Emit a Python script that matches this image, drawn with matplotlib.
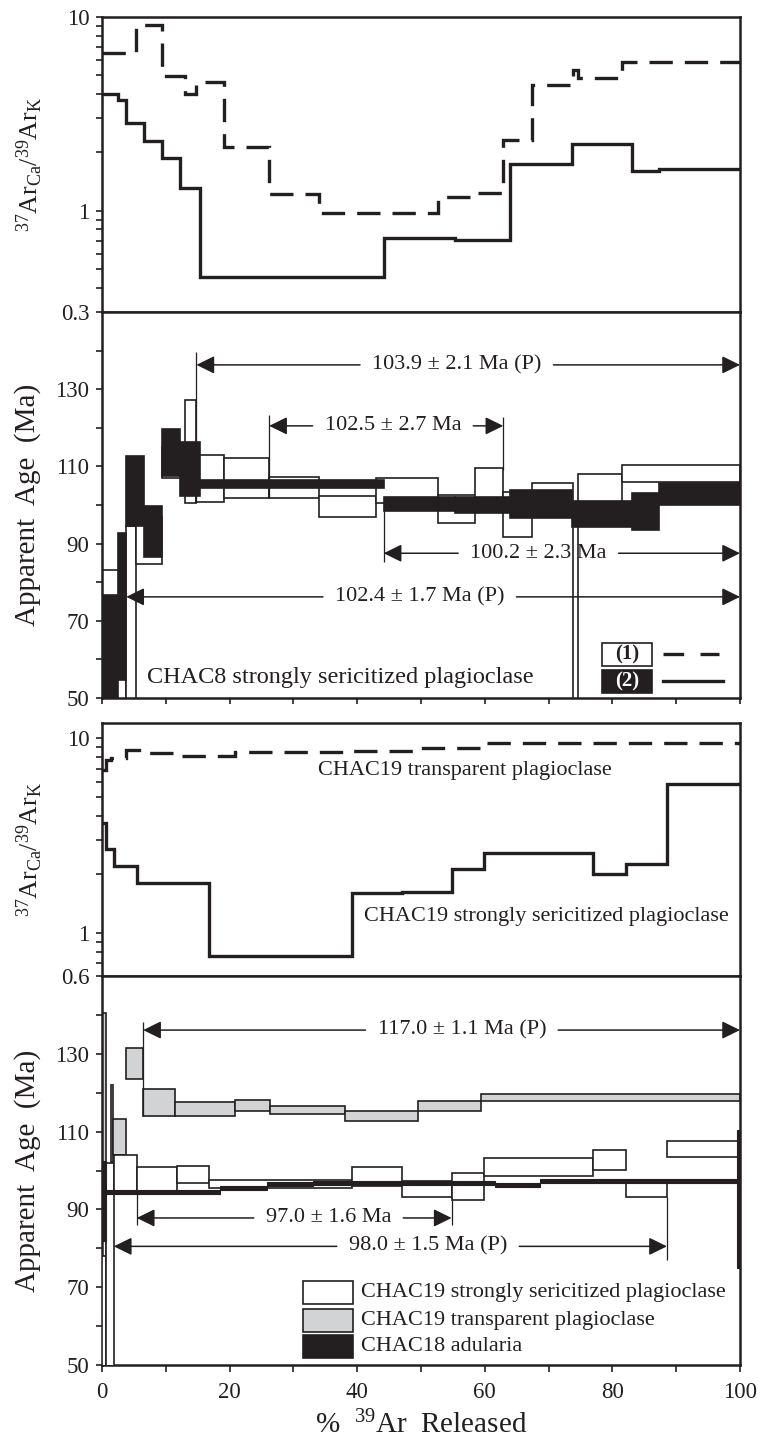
import numpy as np
import matplotlib
matplotlib.use("Agg")
import matplotlib.pyplot as plt
from matplotlib.patches import Rectangle
from matplotlib.ticker import FixedLocator, FixedFormatter, NullFormatter

plt.rcParams['font.family'] = ['Liberation Serif', 'DejaVu Serif']
plt.rcParams['mathtext.fontset'] = 'custom'
plt.rcParams['mathtext.rm'] = 'Liberation Serif'
plt.rcParams['mathtext.it'] = 'Liberation Serif:italic'
plt.rcParams['mathtext.bf'] = 'Liberation Serif:bold'

INK = '#231f20'
GREY = '#d1d3d4'

# ---- CHAC8 sample (1): steps, Ca/K and age envelope ----
chac8_1_edges = [0, 3.8, 5.3, 9.35, 13.0, 14.8, 19.05, 26.2, 34.0, 43.0, 52.6,
                 58.4, 62.9, 67.4, 73.85, 74.65, 81.45, 100]
chac8_1_cak = [6.5, 6.5, 9.1, 4.96, 4.0, 4.63, 2.14, 1.215, 0.97, 0.97, 1.18,
               1.24, 2.32, 4.46, 5.33, 4.83, 5.88]
chac8_1_lo = [40, 40, 84.6, 107.0, 100.4, 100.9, 101.7, 101.7, 97.0, 100.6,
              95.4, 101.5, 91.7, 97.5, 30, 98.0, 106.0]
chac8_1_hi = [83.2, 94.6, 97.0, 115.0, 127.2, 112.9, 112.1, 107.3, 102.3,
              107.1, 102.6, 109.5, 103.4, 105.6, 100.9, 108.0, 110.4]

# ---- CHAC8 sample (2) ----
chac8_2_edges = [0, 2.5, 3.8, 6.6, 9.4, 12.15, 15.4, 44.15, 55.4, 63.95, 73.7,
                 83.0, 87.35, 100]
chac8_2_cak = [3.99, 3.73, 2.85, 2.30, 1.87, 1.31, 0.456, 0.726, 0.706, 1.736,
               2.20, 1.61, 1.64]
chac8_2_lo = [40, 54.7, 94.6, 86.6, 107.5, 102.3, 104.4, 98.5, 98.0, 96.6,
              94.3, 93.6, 100.0]
chac8_2_hi = [76.7, 92.7, 112.7, 99.7, 119.6, 116.4, 106.4, 102.0, 102.1,
              103.9, 101.0, 103.0, 105.6]

# ---- CHAC19 strongly sericitized plagioclase ----
chac19s_edges = [0, 0.6, 1.85, 5.45, 11.8, 16.7, 39.2, 47.0, 54.8, 59.95,
                 76.95, 82.2, 88.55, 100]
chac19s_cak = [3.66, 2.71, 2.22, 1.80, 1.81, 0.756, 1.60, 1.62, 2.14, 2.56,
               2.01, 2.27, 5.81]
chac19s_lo = [40, 40, 94.0, 94.0, 96.8, 95.6, 96.0, 93.3, 92.4, 98.6, 100.1,
              93.1, 103.5]
chac19s_hi = [78.0, 102.0, 104.0, 100.9, 101.2, 97.5, 101.0, 97.2, 99.4,
              103.2, 105.2, 97.6, 107.5]

# ---- CHAC19 transparent plagioclase ----
chac19t_edges = [0, 0.7, 1.35, 1.8, 3.7, 6.45, 11.5, 20.9, 26.4, 38.1, 49.5,
                 59.4, 100]
chac19t_cak = [6.9, 7.7, 7.95, 7.95, 8.7, 8.45, 8.15, 8.5, 8.5, 8.6, 8.95, 9.5]
chac19t_lo = [102.3, 40, 102.3, 104.0, 123.5, 114.1, 113.9, 115.2, 114.5,
              112.6, 115.2, 117.8]
chac19t_hi = [140.5, 101.0, 122.0, 113.2, 131.5, 120.9, 117.5, 118.1, 116.6,
              115.2, 117.8, 119.7]

# ---- CHAC18 adularia ----
chac18_edges = [0, 0.6, 18.5, 25.8, 33.1, 61.6, 68.7, 99.5, 100]
chac18_lo = [82.0, 93.9, 94.9, 95.9, 96.4, 95.8, 96.9, 75.0]
chac18_hi = [102.5, 94.9, 95.9, 97.0, 97.4, 96.8, 97.9, 110.4]

# plateau / mean age brackets: label, start, end, arrow level, text centre
chac8_brackets = [
    ("103.9 ± 2.1 Ma (P)", 14.8, 100, 136.3, 55.6),
    ("102.5 ± 2.7 Ma", 26.2, 62.9, 120.5, 45.6),
    ("100.2 ± 2.3 Ma", 44.15, 100, 87.5, 68.4),
    ("102.4 ± 1.7 Ma (P)", 3.8, 100, 76.2, 49.8),
]
chac8_marks_x = [14.8, 26.2, 62.9, 44.15]
chac8_marks_lo = [100.4, 101.7, 109.1, 85.3]
chac8_marks_hi = [139.7, 123.3, 122.9, 100.3]

chac19_brackets = [
    ("117.0 ± 1.1 Ma (P)", 6.45, 100, 136.1, 56.4),
    ("97.0 ± 1.6 Ma", 5.45, 54.8, 87.8, 35.5),
    ("98.0 ± 1.5 Ma (P)", 1.85, 88.55, 80.5, 51.1),
]
chac19_marks_x = [6.45, 5.45, 54.8, 88.55]
chac19_marks_lo = [114.1, 86.0, 86.0, 77.0]
chac19_marks_hi = [138.3, 94.0, 92.4, 93.1]

age_ticks = list(range(50, 141, 10))
age_labels = [str(v) if (v - 50) % 20 == 0 else '' for v in age_ticks]
x_ticks = list(range(0, 101, 10))
x_labels = [str(v) if v % 20 == 0 else '' for v in x_ticks]

W, H = 760, 1439
fig = plt.figure(figsize=(W / 100, H / 100), dpi=100)


def add_axes(top, bottom):
    return fig.add_axes([102 / W, 1 - bottom / H, 638 / W, (bottom - top) / H])


def style(ax):
    for s in ax.spines.values():
        s.set_linewidth(1.8)
        s.set_color(INK)
    ax.tick_params(which='both', direction='out', length=4, width=1.2,
                   colors=INK, labelsize=16.5, pad=5, right=False, top=False)
    ax.set_xlim(0, 100)


def boxes(ax, edges, lo, hi, face, z, lw=1.2):
    edges = np.asarray(edges, float)
    lo = np.asarray(lo, float)
    hi = np.asarray(hi, float)
    ax.bar(edges[:-1], hi - lo, width=np.diff(edges), bottom=lo, align='edge',
           color=face, edgecolor=INK, linewidth=lw, zorder=z)


def steps(ax, edges, vals, **kw):
    ax.plot(edges, list(vals) + [vals[-1]], drawstyle='steps-post', color=INK,
            lw=2.4, solid_joinstyle='miter', dash_joinstyle='miter',
            dash_capstyle='butt', zorder=3, **kw)


cak_label = r'$^{37}\mathrm{Ar}_{\mathrm{Ca}}/^{39}\mathrm{Ar}_{\mathrm{K}}$'
age_label = 'Apparent  Age  (Ma)'
dash = (0, (7.0, 3.6))

# ---------------- panel 1 : CHAC8 Ca/K ----------------
ax1 = add_axes(17, 312)
style(ax1)
ax1.set_yscale('log')
ax1.set_ylim(0.3, 10)
steps(ax1, chac8_1_edges, chac8_1_cak, linestyle=dash)
steps(ax1, chac8_2_edges, chac8_2_cak)
ax1.yaxis.set_major_locator(FixedLocator([0.3, 1, 10]))
ax1.yaxis.set_major_formatter(FixedFormatter(['0.3', '1', '10']))
ax1.yaxis.set_minor_locator(FixedLocator([0.4, 0.5, 0.6, 0.7, 0.8, 0.9, 2, 3, 4, 5, 6, 7, 8, 9]))
ax1.yaxis.set_minor_formatter(NullFormatter())
ax1.tick_params(axis='x', bottom=False, labelbottom=False)
ax1.set_ylabel(cak_label, fontsize=18.5, color=INK)
ax1.yaxis.set_label_coords(-0.09, 0.5)

# ---------------- panel 2 : CHAC8 ages ----------------
ax2 = add_axes(312, 698)
style(ax2)
ax2.set_ylim(50, 150)
boxes(ax2, chac8_1_edges, chac8_1_lo, chac8_1_hi, 'white', 2)
boxes(ax2, chac8_2_edges, chac8_2_lo, chac8_2_hi, INK, 3)
ax2.vlines(chac8_marks_x, chac8_marks_lo, chac8_marks_hi, color=INK, lw=0.9, zorder=4)
ax2.set_yticks(age_ticks)
ax2.set_yticklabels(age_labels)
ax2.set_xticks(x_ticks)
ax2.tick_params(axis='x', labelbottom=False)
ax2.set_ylabel(age_label, fontsize=21, color=INK)
ax2.yaxis.set_label_coords(-0.095, 0.5)
ax2.text(7.0, 55.2, 'CHAC8 strongly sericitized plagioclase', fontsize=17.5,
         color=INK, va='center', ha='left', zorder=6)
# key for the two CHAC8 fractions
ax2.add_patch(Rectangle((0.783, 0.083), 0.079, 0.059, transform=ax2.transAxes,
                        facecolor='white', edgecolor=INK, lw=1.2, zorder=6))
ax2.add_patch(Rectangle((0.783, 0.013), 0.079, 0.059, transform=ax2.transAxes,
                        facecolor=INK, edgecolor=INK, lw=1.2, zorder=6))
ax2.text(0.8225, 0.1125, '(1)', transform=ax2.transAxes, ha='center', va='center',
         fontsize=15, fontweight='bold', color=INK, zorder=7)
ax2.text(0.8225, 0.0425, '(2)', transform=ax2.transAxes, ha='center', va='center',
         fontsize=15, fontweight='bold', color='white', zorder=7)
ax2.plot([0.879, 0.967], [0.114, 0.114], transform=ax2.transAxes, color=INK,
         lw=2.4, linestyle=(0, (6.2, 4.9)), dash_capstyle='butt', zorder=6)
ax2.plot([0.879, 0.973], [0.044, 0.044], transform=ax2.transAxes, color=INK,
         lw=2.4, zorder=6)

# ---------------- panel 3 : CHAC19 Ca/K ----------------
ax3 = add_axes(723, 976)
style(ax3)
ax3.set_yscale('log')
ax3.set_ylim(0.6, 12)
steps(ax3, chac19t_edges, chac19t_cak, linestyle=dash)
steps(ax3, chac19s_edges, chac19s_cak)
ax3.yaxis.set_major_locator(FixedLocator([0.6, 1, 10]))
ax3.yaxis.set_major_formatter(FixedFormatter(['0.6', '1', '10']))
ax3.yaxis.set_minor_locator(FixedLocator([0.7, 0.8, 0.9, 2, 3, 4, 5, 6, 7, 8, 9]))
ax3.yaxis.set_minor_formatter(NullFormatter())
ax3.tick_params(axis='x', bottom=False, labelbottom=False)
ax3.set_ylabel(cak_label, fontsize=18.5, color=INK)
ax3.yaxis.set_label_coords(-0.09, 0.5)
ax3.text(33.9, 6.8, 'CHAC19 transparent plagioclase', fontsize=16, color=INK,
         va='center', ha='left')
ax3.text(41.0, 1.22, 'CHAC19 strongly sericitized plagioclase', fontsize=16,
         color=INK, va='center', ha='left')

# ---------------- panel 4 : CHAC19 / CHAC18 ages ----------------
ax4 = add_axes(976, 1365)
style(ax4)
ax4.set_ylim(50, 150)
boxes(ax4, chac19t_edges, chac19t_lo, chac19t_hi, GREY, 2)
boxes(ax4, chac19s_edges, chac19s_lo, chac19s_hi, 'white', 3)
boxes(ax4, chac18_edges, chac18_lo, chac18_hi, INK, 4, lw=0.8)
ax4.vlines(chac19_marks_x, chac19_marks_lo, chac19_marks_hi, color=INK, lw=0.9, zorder=4)
ax4.set_yticks(age_ticks)
ax4.set_yticklabels(age_labels)
ax4.set_xticks(x_ticks)
ax4.set_xticklabels(x_labels)
ax4.tick_params(axis='x', length=5, pad=7)
ax4.set_ylabel(age_label, fontsize=21, color=INK)
ax4.yaxis.set_label_coords(-0.095, 0.5)
ax4.set_xlabel(r'%  $^{39}$Ar  Released', fontsize=21, color=INK, labelpad=6)

key_faces = ['white', GREY, INK]
key_names = ['CHAC19 strongly sericitized plagioclase',
             'CHAC19 transparent plagioclase', 'CHAC18 adularia']
key_y = [0.157, 0.085, 0.018]
for face, name, y in zip(key_faces, key_names, key_y):
    ax4.add_patch(Rectangle((0.315, y), 0.078, 0.059, transform=ax4.transAxes,
                            facecolor=face, edgecolor=INK, lw=1.2, zorder=6))
    ax4.text(0.406, y + 0.0295, name, transform=ax4.transAxes, fontsize=16,
             color=INK, va='center', ha='left', zorder=6)

# ---------------- bracket arrows ----------------
pending = []
for ax, brs in [(ax2, chac8_brackets), (ax4, chac19_brackets)]:
    for label, x0, x1, y, xc in brs:
        t = ax.text(xc, y, label, fontsize=16, color=INK, ha='center',
                    va='center', zorder=6)
        pending.append((ax, t, x0, x1, y))

fig.canvas.draw()
renderer = fig.canvas.get_renderer()
head = dict(arrowstyle='-|>,head_length=0.55,head_width=0.27', color=INK,
            lw=1.1, mutation_scale=20, shrinkA=0, shrinkB=0)
for ax, t, x0, x1, y in pending:
    bb = t.get_window_extent(renderer)
    inv = ax.transData.inverted()
    _, ypx = ax.transData.transform((0, y))
    left = inv.transform((bb.x0 - 12, ypx))[0]
    right = inv.transform((bb.x1 + 12, ypx))[0]
    ax.annotate('', xy=(x0, y), xytext=(left, y), arrowprops=head, zorder=6)
    ax.annotate('', xy=(x1, y), xytext=(right, y), arrowprops=head, zorder=6)

fig.savefig('out.png', dpi=100)
